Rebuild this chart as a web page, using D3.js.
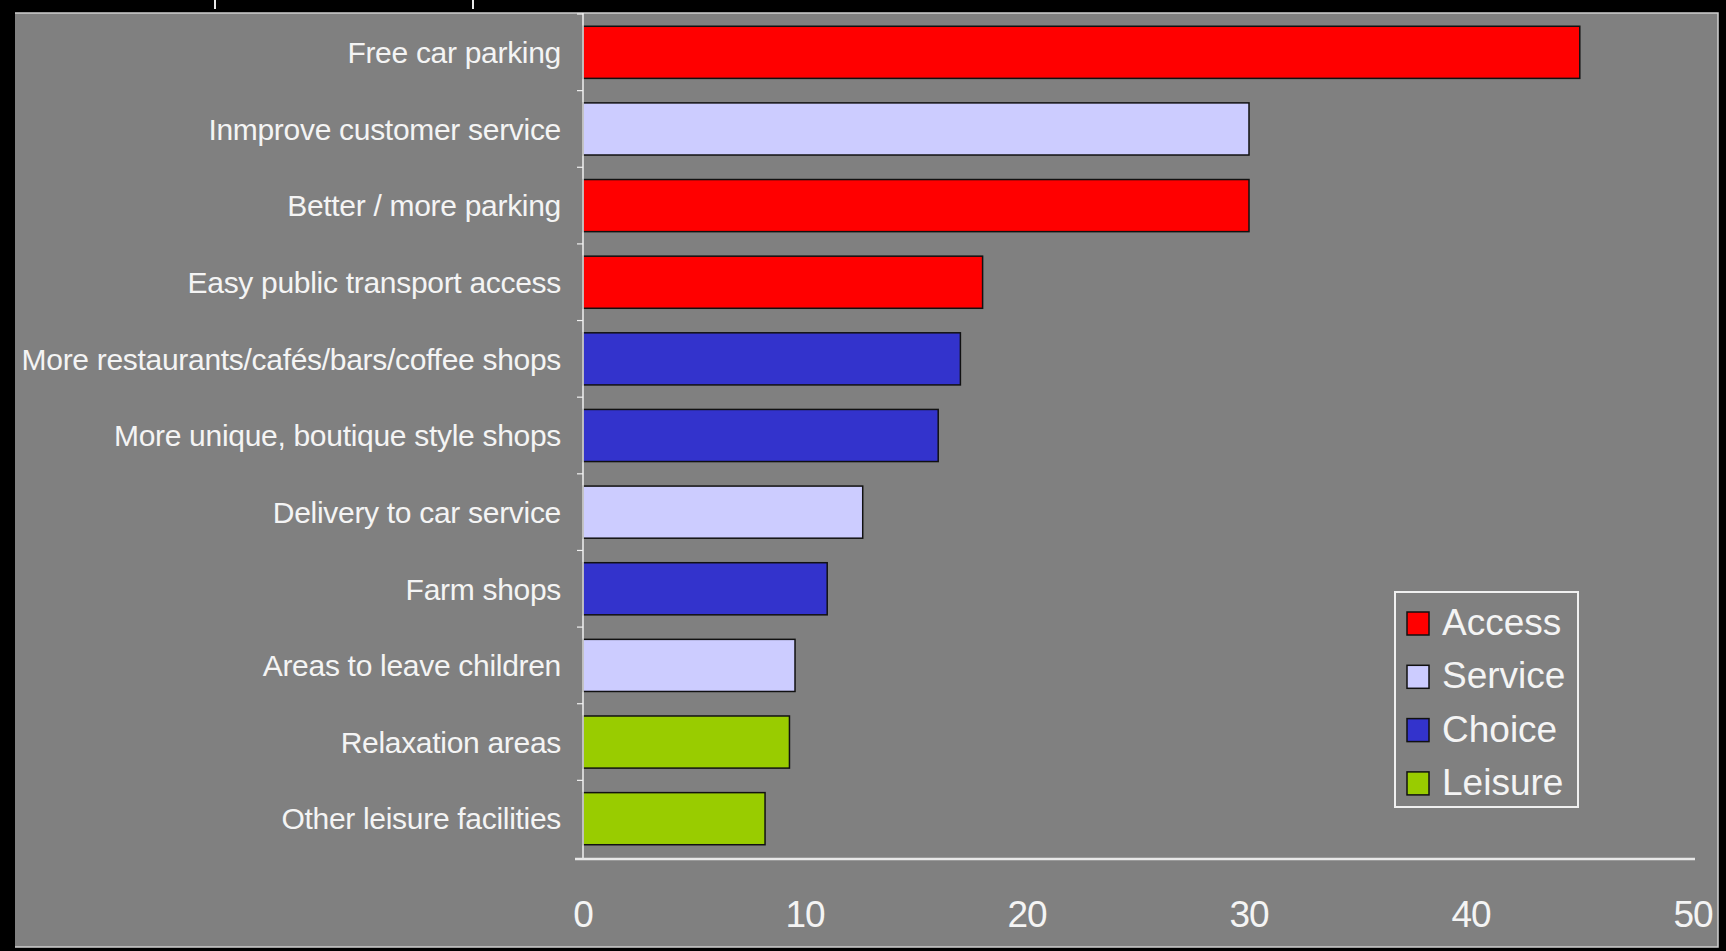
<!DOCTYPE html>
<html>
<head>
<meta charset="utf-8">
<script src="https://cdn.jsdelivr.net/npm/d3@7"></script>
<style>
  html, body { margin: 0; padding: 0; background: #000; }
  svg { display: block; }
  text { font-family: "Liberation Sans", Arial, sans-serif; }
</style>
</head>
<body>
<svg id="chart" width="1726" height="951"></svg>
<script>
// ---- data ----
const categories = [
  "Free car parking",
  "Inmprove customer service",
  "Better / more parking",
  "Easy public transport access",
  "More restaurants/cafés/bars/coffee shops",
  "More unique, boutique style shops",
  "Delivery to car service",
  "Farm shops",
  "Areas to leave children",
  "Relaxation areas",
  "Other leisure facilities"
];
const values = [44.9, 30, 30, 18, 17, 16, 12.6, 11, 9.55, 9.3, 8.2];
const groups = ["Access", "Service", "Access", "Access", "Choice", "Choice", "Service", "Choice", "Service", "Leisure", "Leisure"];
const legendGroups = ["Access", "Service", "Choice", "Leisure"];
const groupColors = ["#ff0000", "#ccccff", "#3333cc", "#99cc00"];
const xTicks = [0, 10, 20, 30, 40, 50];

// ---- layout ----
const svg = d3.select("#chart");
const panel = {x: 15, y: 13, w: 1703, h: 934};
const plot = {left: 583, right: 1693, top: 14, bottom: 857};

svg.append("rect").attr("x", 0).attr("y", 0).attr("width", 1726).attr("height", 951).attr("fill", "#000");
// small fragments of cut-off content above the panel
svg.append("g").attr("stroke", "#e8e8e8").attr("stroke-width", 2)
  .selectAll("line").data([215, 473]).join("line")
  .attr("x1", d => d).attr("x2", d => d).attr("y1", 0).attr("y2", 9);

svg.append("rect").attr("x", panel.x).attr("y", panel.y).attr("width", panel.w).attr("height", panel.h).attr("fill", "#808080");
// light edges on top, right, bottom
svg.append("path")
  .attr("d", `M${panel.x},${panel.y}H${panel.x + panel.w}V${panel.y + panel.h}H${panel.x}`)
  .attr("fill", "none").attr("stroke", "#d0d0d0").attr("stroke-width", 1.5);

const color = d3.scaleOrdinal().domain(legendGroups).range(groupColors);
const x = d3.scaleLinear().domain([0, 50]).range([plot.left, plot.right]);
const y = d3.scaleBand().domain(categories).range([plot.top, plot.bottom]).paddingInner(0.32).paddingOuter(0.16);
const step = y.step();

// bars
svg.append("g").selectAll("rect").data(categories).join("rect")
  .attr("x", x(0))
  .attr("y", d => y(d))
  .attr("width", (d, i) => x(values[i]) - x(0))
  .attr("height", y.bandwidth())
  .attr("fill", (d, i) => color(groups[i]))
  .attr("stroke", "#111")
  .attr("stroke-width", 1.5);

// y axis line and ticks
const axisColor = "#f0f0f0";
svg.append("line").attr("x1", plot.left).attr("x2", plot.left).attr("y1", plot.top - 1).attr("y2", plot.bottom + 2)
  .attr("stroke", axisColor).attr("stroke-width", 1.5);
const boundaries = d3.range(categories.length + 1).map(i => plot.top + i * step);
svg.append("g").selectAll("line").data(boundaries.slice(0, -1)).join("line")
  .attr("x1", plot.left - 6).attr("x2", plot.left).attr("y1", d => d).attr("y2", d => d)
  .attr("stroke", axisColor).attr("stroke-width", 1.2);

// x axis line
svg.append("line").attr("x1", plot.left - 8).attr("x2", x(50) + 2).attr("y1", plot.bottom + 2).attr("y2", plot.bottom + 2)
  .attr("stroke", "#e8e8e8").attr("stroke-width", 2.5);

// category labels
svg.append("g").selectAll("text").data(categories).join("text")
  .attr("x", plot.left - 22)
  .attr("y", d => y(d) + y.bandwidth() / 2)
  .attr("dy", "0.36em")
  .attr("text-anchor", "end")
  .attr("fill", "#f4f4f4")
  .attr("font-size", 30)
  .attr("letter-spacing", -0.3)
  .text(d => d);

// x tick labels
svg.append("g").selectAll("text").data(xTicks).join("text")
  .attr("x", d => x(d))
  .attr("y", 927)
  .attr("text-anchor", "middle")
  .attr("fill", "#f4f4f4")
  .attr("font-size", 37)
  .attr("letter-spacing", -1)
  .text(d => d);

// legend
const lg = svg.append("g");
lg.append("rect").attr("x", 1395).attr("y", 592).attr("width", 183).attr("height", 215)
  .attr("fill", "none").attr("stroke", "#f0f0f0").attr("stroke-width", 2);
const items = lg.selectAll("g.item").data(legendGroups).join("g").attr("class", "item")
  .attr("transform", (d, i) => `translate(1407, ${612 + i * 53.3})`);
items.append("rect").attr("width", 22).attr("height", 23)
  .attr("fill", d => color(d)).attr("stroke", "#111").attr("stroke-width", 1.5);
items.append("text").attr("x", 35).attr("y", 23).attr("fill", "#f4f4f4").attr("font-size", 37).text(d => d);
</script>
</body>
</html>
